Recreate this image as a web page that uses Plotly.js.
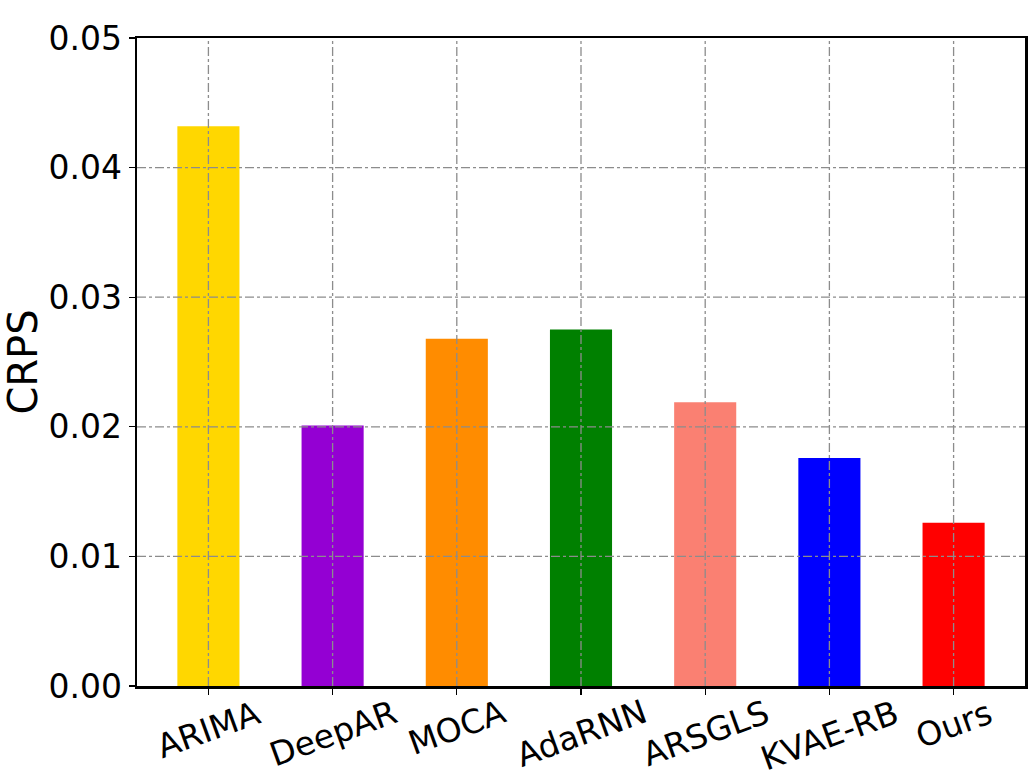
<!DOCTYPE html>
<html>
<head>
<meta charset="utf-8">
<script src="https://cdn.plot.ly/plotly-3.0.1.min.js"></script>
<style>html,body{margin:0;padding:0;background:#fff;}#chart{width:1036px;height:773px;}</style>
</head>
<body>
<div id="chart"></div>
<script>
const methods = ["ARIMA", "DeepAR", "MOCA", "AdaRNN", "ARSGLS", "KVAE-RB", "Ours"];
const crps = [0.0432, 0.0201, 0.0268, 0.0275, 0.0219, 0.0176, 0.0126];
const barColors = ["#FFD700", "#9400D3", "#FF8C00", "#008000", "#FA8072", "#0000FF", "#FF0000"];
const yTicks = [0.00, 0.01, 0.02, 0.03, 0.04, 0.05];
const yTickLabels = ["0.00", "0.01", "0.02", "0.03", "0.04", "0.05"];

const font = "DejaVu Sans, sans-serif";
const gridStyle = {color: "#8c8c8c", width: 1.3, dash: "dashdot"};
const shapes = [];
methods.forEach(m => shapes.push({type: "line", layer: "above", xref: "x", yref: "paper", x0: m, x1: m, y0: 0, y1: 1, line: gridStyle}));
yTicks.slice(1, -1).forEach(v => shapes.push({type: "line", layer: "above", xref: "paper", yref: "y", x0: 0, x1: 1, y0: v, y1: v, line: gridStyle}));

const annotations = methods.map(m => ({
  x: m, xref: "x", y: 0, yref: "paper",
  text: m, showarrow: false, textangle: -20,
  xanchor: "center", yanchor: "top", yshift: -4,
  font: {family: font, size: 33, color: "#000"}
}));

Plotly.newPlot("chart", [{
  type: "bar",
  x: methods,
  y: crps,
  width: 0.5,
  marker: {color: barColors, line: {width: 0}},
  hoverinfo: "x+y"
}], {
  width: 1036, height: 773,
  margin: {l: 137, r: 11, t: 38, b: 87, pad: 0},
  paper_bgcolor: "#fff", plot_bgcolor: "#fff",
  showlegend: false,
  font: {family: font, color: "#000"},
  xaxis: {
    type: "category", range: [-0.575, 6.575],
    showgrid: false, zeroline: false, showticklabels: false,
    showline: true, mirror: true, linecolor: "#000", linewidth: 2.5,
    ticks: "outside", ticklen: 6, tickwidth: 1.2, tickcolor: "#000"
  },
  yaxis: {
    range: [0, 0.05], tickvals: yTicks, ticktext: yTickLabels,
    showgrid: false, zeroline: false,
    showline: true, mirror: true, linecolor: "#000", linewidth: 2.5,
    ticks: "outside", ticklen: 6, tickwidth: 1.2, tickcolor: "#000",
    tickfont: {family: font, size: 33, color: "#000"},
    title: {text: "CRPS", font: {family: font, size: 40, color: "#000"}, standoff: 10}
  },
  shapes: shapes,
  annotations: annotations
}, {displayModeBar: false, staticPlot: true});
</script>
</body>
</html>
